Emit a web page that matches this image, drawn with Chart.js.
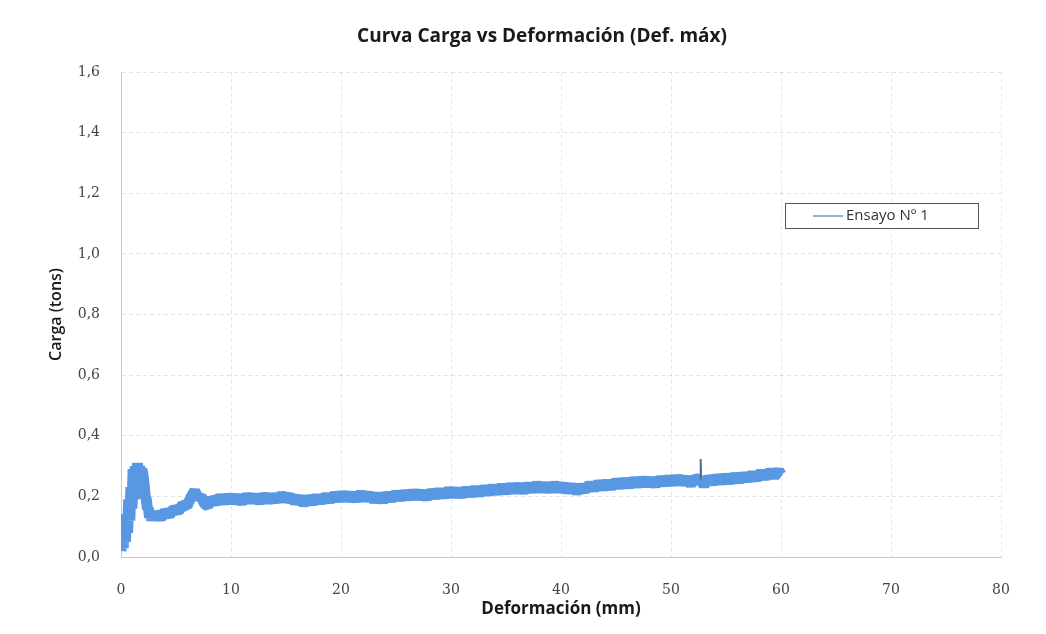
<!DOCTYPE html>
<html><head><meta charset="utf-8">
<script src="https://cdn.jsdelivr.net/npm/chart.js@4.4.1/dist/chart.umd.min.js"></script>
<style>html,body{margin:0;padding:0;background:#fff}#wrap{width:1046px;height:634px;position:relative}</style>
</head><body><div id="wrap"><canvas id="c" width="1046" height="634"></canvas></div>
<script>
const chartTitle = 'Curva Carga vs Deformación (Def. máx)';
const xAxisTitle = 'Deformación (mm)';
const yAxisTitle = 'Carga (tons)';
const seriesLabel = 'Ensayo Nº 1';
const xTickValues = [0, 10, 20, 30, 40, 50, 60, 70, 80];
const yTickValues = [0, 0.2, 0.4, 0.6, 0.8, 1.0, 1.2, 1.4, 1.6];
const yTickLabels = ['0,0', '0,2', '0,4', '0,6', '0,8', '1,0', '1,2', '1,4', '1,6'];

const deformacion = [
  0.0, 0.1, 0.2, 0.3, 0.4, 0.5, 0.6, 0.7, 0.8, 0.9, 1.0, 1.1, 1.2, 1.3, 1.4, 1.5, 1.6, 1.7, 1.8, 1.9,
  2.0, 2.1, 2.2, 2.3, 2.4, 2.5, 2.6, 2.7, 2.8, 2.9, 3.0,
  3.2, 3.6, 4.0, 4.4, 4.8, 5.2, 5.6, 6.0, 6.4, 6.7, 7.0, 7.3, 7.6, 7.9, 8.2, 8.6, 9.0, 9.4, 9.8,
  10.2, 10.6, 11.0, 11.4, 11.8, 12.2, 12.6, 13.0, 13.4, 13.8, 14.2, 14.6, 15.0, 15.4, 15.8,
  16.2, 16.6, 17.0, 17.4, 17.8, 18.2, 18.6, 19.0, 19.4, 19.8, 20.2, 20.6, 21.0, 21.4, 21.8,
  22.2, 22.6, 23.0, 23.4, 23.8, 24.2, 24.6, 25.0, 25.4, 25.8, 26.2, 26.6, 27.0, 27.4, 27.8,
  28.2, 28.6, 29.0, 29.4, 29.8, 30.2, 30.6, 31.0, 31.4, 31.8, 32.2, 32.6, 33.0, 33.4, 33.8,
  34.2, 34.6, 35.0, 35.4, 35.8, 36.2, 36.6, 37.0, 37.4, 37.8, 38.2, 38.6, 39.0, 39.4, 39.8,
  40.2, 40.6, 41.0, 41.4, 41.8, 42.2, 42.6, 43.0, 43.4, 43.8, 44.2, 44.6, 45.0, 45.4, 45.8,
  46.2, 46.6, 47.0, 47.4, 47.8, 48.2, 48.6, 49.0, 49.4, 49.8, 50.2, 50.6, 51.0, 51.4, 51.8,
  52.2, 52.7, 52.7, 52.75, 53.0, 53.4, 53.8, 54.2, 54.6, 55.0, 55.4, 55.8, 56.2, 56.6, 57.0, 57.4,
  57.8, 58.2, 58.6, 59.0, 59.4, 59.8, 60.0
];
const carga = [
  0.02, 0.06, 0.03, 0.10, 0.05, 0.14, 0.08, 0.19, 0.12, 0.23, 0.16, 0.29, 0.19, 0.30, 0.21, 0.31, 0.23, 0.30, 0.25, 0.29,
  0.27, 0.24, 0.20, 0.19, 0.16, 0.16, 0.13, 0.15, 0.12, 0.14, 0.13,
  0.145, 0.128, 0.150, 0.138, 0.160, 0.150, 0.172, 0.168, 0.200, 0.218, 0.195, 0.200, 0.175, 0.168, 0.192, 0.180, 0.198, 0.182, 0.200,
  0.184, 0.198, 0.180, 0.202, 0.186, 0.200, 0.182, 0.203, 0.185, 0.200, 0.188, 0.205, 0.190, 0.200, 0.182,
  0.196, 0.175, 0.195, 0.180, 0.198, 0.183, 0.202, 0.186, 0.206, 0.190, 0.208, 0.192, 0.205, 0.190, 0.210,
  0.192, 0.206, 0.186, 0.204, 0.185, 0.207, 0.190, 0.210, 0.193, 0.212, 0.196, 0.214, 0.198, 0.212, 0.195,
  0.216, 0.200, 0.218, 0.202, 0.222, 0.205, 0.220, 0.203, 0.224, 0.206, 0.226, 0.208, 0.228, 0.212, 0.230,
  0.214, 0.233, 0.215, 0.235, 0.218, 0.236, 0.216, 0.238, 0.220, 0.240, 0.222, 0.238, 0.220, 0.240, 0.222,
  0.236, 0.218, 0.234, 0.215, 0.232, 0.220, 0.240, 0.225, 0.244, 0.228, 0.246, 0.230, 0.250, 0.234, 0.252,
  0.236, 0.254, 0.238, 0.256, 0.240, 0.255, 0.238, 0.258, 0.242, 0.260, 0.244, 0.262, 0.245, 0.258, 0.240,
  0.260, 0.252, 0.323, 0.252, 0.236, 0.262, 0.245, 0.264, 0.248, 0.266, 0.250, 0.268, 0.252, 0.270, 0.256, 0.274,
  0.258, 0.280, 0.262, 0.284, 0.266, 0.285, 0.272
];

const points = deformacion.map((x, i) => ({ x: x, y: carga[i] }));
const spikeThreshold = 0.31;
const spikeFromDeformacion = 40;

const titlePlugin = {
  id: 'customTitle',
  afterDraw(chart) {
    const ctx = chart.ctx;
    ctx.save();
    ctx.font = 'bold 19px "Open Sans"';
    ctx.fillStyle = '#1a1a1a';
    ctx.textAlign = 'center';
    ctx.textBaseline = 'middle';
    ctx.fillText(chartTitle, 542, 37);
    ctx.restore();
  }
};

const legendPlugin = {
  id: 'boxLegend',
  afterDraw(chart) {
    const ctx = chart.ctx;
    const ds = chart.data.datasets[0];
    ctx.save();
    ctx.fillStyle = '#ffffff';
    ctx.fillRect(785, 203, 193, 25);
    ctx.strokeStyle = '#555';
    ctx.lineWidth = 1;
    ctx.strokeRect(785.5, 203.5, 193, 25);
    ctx.strokeStyle = '#8fb0d6';
    ctx.lineWidth = 2;
    ctx.beginPath();
    ctx.moveTo(813, 216);
    ctx.lineTo(843, 216);
    ctx.stroke();
    ctx.font = '15px "Open Sans"';
    ctx.fillStyle = '#333';
    ctx.textAlign = 'left';
    ctx.textBaseline = 'middle';
    ctx.fillText(ds.label, 846, 216);
    ctx.restore();
  }
};

const isSpike = (ctx) => (ctx.p0.parsed.x > spikeFromDeformacion) &&
  (ctx.p0.parsed.y > spikeThreshold || ctx.p1.parsed.y > spikeThreshold);

new Chart(document.getElementById('c'), {
  type: 'scatter',
  data: {
    datasets: [{
      label: seriesLabel,
      data: points,
      showLine: true,
      borderColor: '#5898e3',
      backgroundColor: '#5898e3',
      borderWidth: 11,
      borderJoinStyle: 'bevel',
      borderCapStyle: 'butt',
      pointRadius: 0,
      tension: 0,
      fill: false,
      segment: {
        borderWidth: c => isSpike(c) ? 2 : undefined,
        borderColor: c => isSpike(c) ? '#4a6f99' : undefined
      }
    }]
  },
  options: {
    responsive: false,
    animation: false,
    layout: { padding: { top: 72, right: 45, bottom: 0, left: 0 } },
    plugins: {
      legend: { display: false },
      title: { display: false },
      tooltip: { enabled: false }
    },
    scales: {
      x: {
        type: 'linear', min: 0, max: 80,
        afterBuildTicks: s => { s.ticks = xTickValues.map(v => ({ value: v })); },
        afterFit: s => { s.height = 77; },
        ticks: { padding: 25, color: '#444', font: { family: '"DejaVu Serif"', size: 14 } },
        grid: { drawTicks: false, color: 'rgba(0,0,0,0.09)' },
        border: { display: true, color: '#c8c8c8', dash: [4, 3] },
        title: { display: true, text: xAxisTitle, color: '#1a1a1a', font: { family: '"Open Sans"', size: 17, weight: 'bold' }, padding: { top: 0, bottom: 15 } }
      },
      y: {
        type: 'linear', min: 0, max: 1.6,
        afterBuildTicks: s => { s.ticks = yTickValues.map(v => ({ value: v })); },
        afterFit: s => { s.width = 121; },
        ticks: { padding: 21, color: '#444', font: { family: '"DejaVu Serif"', size: 14 },
          callback: (v) => { const i = yTickValues.findIndex(t => Math.abs(t - v) < 1e-6); return i >= 0 ? yTickLabels[i] : ''; } },
        grid: { drawTicks: false, color: 'rgba(0,0,0,0.11)' },
        border: { display: true, color: '#c8c8c8', dash: [4, 3] },
        title: { display: true, text: yAxisTitle, color: '#1a1a1a', font: { family: '"Open Sans"', size: 16, weight: '600' }, padding: { top: 47, bottom: 0 } }
      }
    }
  },
  plugins: [titlePlugin, legendPlugin]
});
</script>
</body></html>
